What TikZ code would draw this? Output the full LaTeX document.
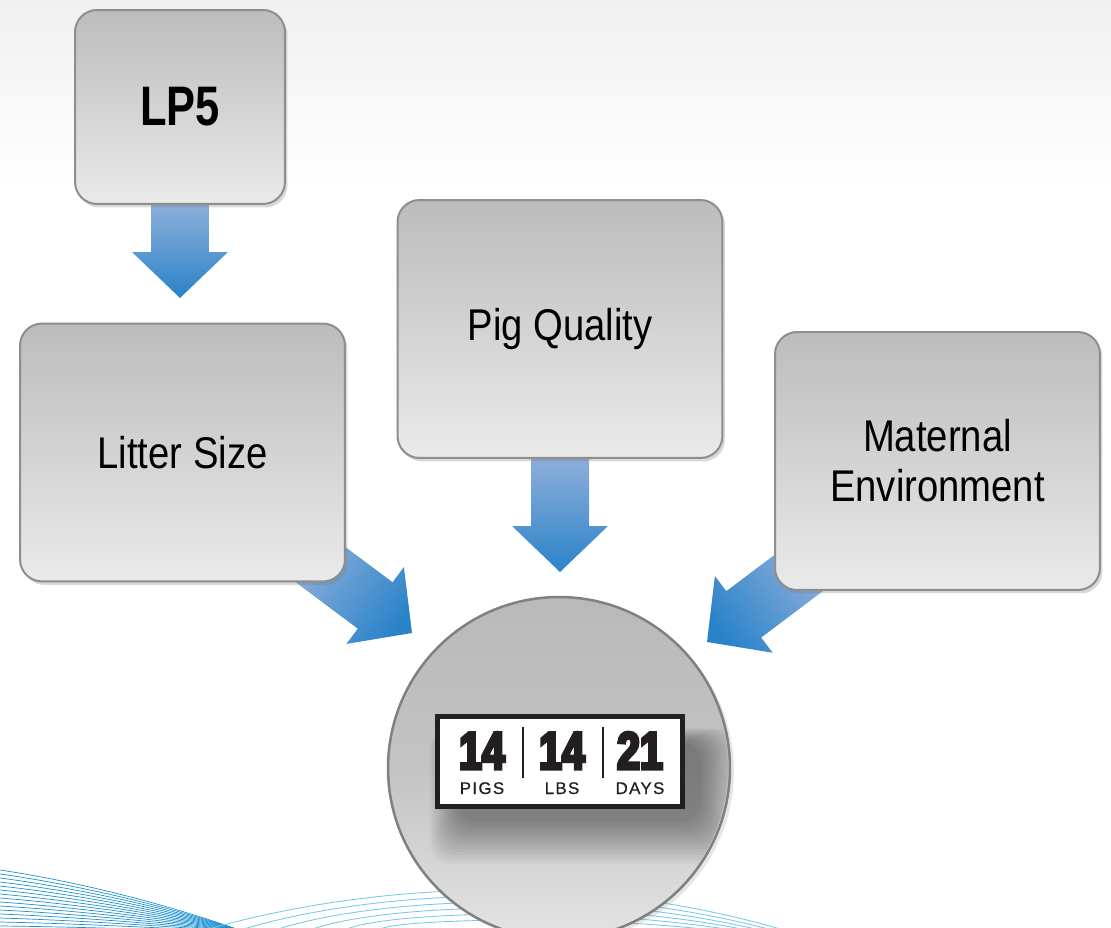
\documentclass[tikz,border=0pt]{standalone}
\usepackage{fontspec}
\setmainfont{Liberation Sans}
\newfontfamily\boxfont[FakeStretch=0.86]{Liberation Sans}
\newfontfamily\lpfont[FakeStretch=0.78]{Liberation Sans Bold}
\newfontfamily\numfont[FakeStretch=0.78,FakeBold=6]{Liberation Sans Bold}
\newfontfamily\tagfont[LetterSpace=8,FakeBold=0.6]{Liberation Sans}
\usetikzlibrary{calc,shadows,backgrounds}

\definecolor{boxtop}{HTML}{BCBCBC}
\definecolor{boxbot}{HTML}{EAEAEA}
\definecolor{boxrim}{HTML}{8E8E8E}
\definecolor{arrowlight}{HTML}{8CAEDA}
\definecolor{arrowdark}{HTML}{2A83C9}
\definecolor{waveblue}{HTML}{1E8FD0}
\definecolor{wavecyan}{HTML}{7CC8E8}
\definecolor{badgeink}{HTML}{231F20}
\definecolor{disctop}{HTML}{B9B9B9}
\definecolor{discmid}{HTML}{C3C3C3}
\definecolor{discbot}{HTML}{E4E4E4}

% block arrow: tail, tip, shading angle
\newcommand{\blockarrow}[3]{%
  \coordinate (ab) at ($(#2)!0.92cm!(#1)$);
  \shade[top color=arrowlight, bottom color=arrowdark, shading angle=#3]
    ($(#1)!0.58cm!90:(#2)$) -- ($(ab)!0.58cm!90:(#2)$) -- ($(ab)!0.96cm!90:(#2)$)
    -- (#2) -- ($(ab)!0.96cm!-90:(#2)$) -- ($(ab)!0.58cm!-90:(#2)$)
    -- ($(#1)!0.58cm!-90:(#2)$) -- cycle;
}

\begin{document}
\begin{tikzpicture}[x=0.02cm, y=-0.02cm,
  factor/.style={rectangle, rounded corners=0.44cm, top color=boxtop, bottom color=boxbot,
    draw=boxrim, line width=0.04cm, align=center, text=black,
    drop shadow={shadow xshift=0.05cm, shadow yshift=-0.07cm, opacity=0.3}},
  bigbox/.style={factor, minimum width=6.5cm, minimum height=5.16cm,
    font=\boxfont\fontsize{25.3}{28.4}\selectfont},
  target/.style={circle, minimum size=6.84cm, top color=disctop, bottom color=discbot,
    middle color=discmid, draw=boxrim!90!black, line width=0.05cm,
    drop shadow={shadow xshift=0.08cm, shadow yshift=-0.06cm, opacity=0.2}},
  digits/.style={anchor=base, inner sep=0pt, text=badgeink,
    font=\numfont\fontsize{30}{30}\selectfont},
  tagline/.style={anchor=base, inner sep=0pt, text=badgeink,
    font=\tagfont\fontsize{9.6}{10}\selectfont}]
  \useasboundingbox (0,0) rectangle (1111,928);

  % backdrop
  \begin{scope}[on background layer]
    \clip (0,0) rectangle (1111,928);
    \shade[top color=black!6, bottom color=white] (0,0) rectangle (1111,190);
    \foreach \i in {0,...,14}
      \draw[waveblue, line width=0.4pt] (0,870+4*\i) .. controls (80,882+3.2*\i) and (170,905+1.8*\i) .. (245,932);
    \foreach \j in {0,...,5}
      \draw[wavecyan, line width=0.5pt] (205+35*\j,930) .. controls (380,880+8*\j) and (600,872+8*\j) .. (800-10*\j,935);
  \end{scope}

  % factors
  \node[factor, minimum width=4.2cm, minimum height=3.88cm,
    font=\lpfont\fontsize{31.7}{34}\selectfont] (lp) at (180,107) {LP5};
  \node[bigbox] (litter) at (182.5,452.5) {Litter Size};
  \node[bigbox] (quality) at (560,329) {Pig Quality};
  \node[bigbox] (maternal) at (937.5,461) {Maternal\\Environment};

  % result
  \node[target] (target) at (559,768) {};
  \begin{scope}
    \clip (target.center) circle[radius=3.38cm];
    \foreach \k in {0,...,14}
      \fill[black, opacity=0.028, rounded corners=0.4cm]
        (458-2*\k,742-\k) rectangle (700+2.5*\k,822+3*\k);
  \end{scope}
  \node[draw=badgeink, fill=white, line width=0.1cm, minimum width=4.9cm,
    minimum height=1.8cm] (badge) at (560,761.5) {};
  \foreach \x/\num/\tag in {482/14/PIGS, 562/14/LBS, 640/21/DAYS} {
    \node[digits] (n\tag) at (\x,769) {\num};
    \node[tagline] (t\tag) at (\x,794) {\tag};
  }
  \foreach \x in {523,603}
    \draw[badgeink, line width=0.04cm] (\x,727) -- (\x,778);

  % arrows
  \coordinate (tipLP) at (180,298);
  \coordinate (tipQ) at (560,572);
  \coordinate (tipL) at (412,633);
  \coordinate (tipM) at (707,642);
  \coordinate (tailL) at ($(litter.south east)+(-35,-25)$);
  \coordinate (tailM) at ($(maternal.south west)+(34,-25)$);
  \begin{scope}[on background layer]
    \blockarrow{lp.south}{tipLP}{0}
    \blockarrow{quality.south}{tipQ}{0}
    \blockarrow{tailL}{tipL}{53}
    \blockarrow{tailM}{tipM}{-53}
  \end{scope}
\end{tikzpicture}
\end{document}
